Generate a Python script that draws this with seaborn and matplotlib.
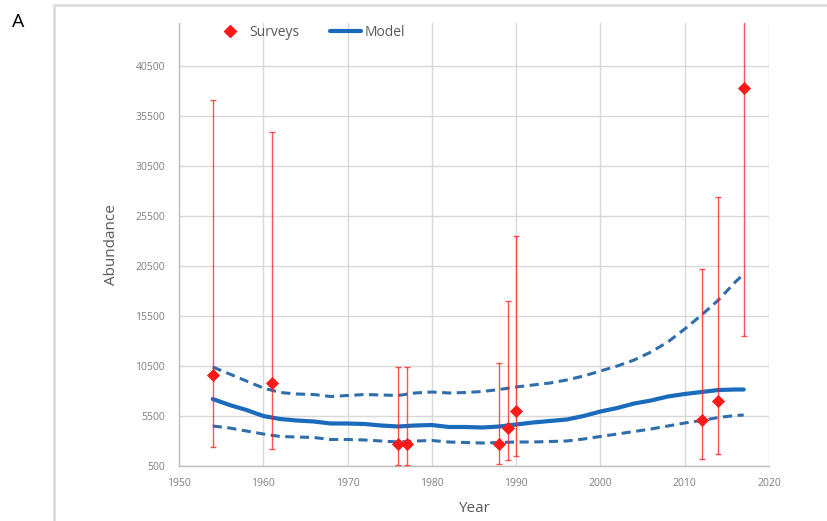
import matplotlib
matplotlib.use("Agg")
import matplotlib.pyplot as plt
import seaborn as sns
import pandas as pd
import numpy as np
from matplotlib.patches import Rectangle
from matplotlib.lines import Line2D

# ---- data ----
survey_years = [1954, 1961, 1976, 1977, 1988, 1989, 1990, 2012, 2014, 2017]
survey_values = [9600, 8800, 2700, 2700, 2750, 4350, 6000, 5150, 7000, 38300]
survey_lower = [2400, 2200, 600, 600, 700, 1100, 1500, 1250, 1750, 13500]
survey_upper = [37100, 33900, 10400, 10400, 10800, 17000, 23500, 20200, 27400, 47000]

model_years = [1954, 1956, 1958, 1960, 1962, 1964, 1966, 1968, 1970, 1972, 1974,
               1976, 1978, 1980, 1982, 1984, 1986, 1988, 1990, 1992, 1994, 1996,
               1998, 2000, 2002, 2004, 2006, 2008, 2010, 2012, 2014, 2016, 2017]
model_mid = [7200, 6600, 6100, 5500, 5200, 5050, 4950, 4750, 4750, 4700, 4550,
             4450, 4550, 4600, 4400, 4400, 4350, 4450, 4650, 4850, 5000, 5150,
             5500, 5950, 6300, 6750, 7050, 7450, 7700, 7900, 8100, 8150, 8150]
model_upper = [10400, 9700, 9000, 8300, 7850, 7700, 7650, 7450, 7550, 7650, 7600,
               7550, 7800, 7900, 7800, 7850, 7950, 8150, 8400, 8600, 8800, 9100,
               9500, 10000, 10500, 11100, 11900, 12900, 14200, 15600, 17100, 18900, 19700]
model_lower = [4500, 4300, 4000, 3700, 3450, 3400, 3350, 3150, 3150, 3100, 3000,
               2900, 3000, 3050, 2900, 2850, 2800, 2850, 2900, 2900, 2950, 3000,
               3200, 3450, 3700, 3950, 4200, 4500, 4800, 5050, 5350, 5550, 5600]

x_ticks = [1950, 1960, 1970, 1980, 1990, 2000, 2010, 2020]
y_ticks = [500, 5500, 10500, 15500, 20500, 25500, 30500, 35500, 40500]

# ---- style ----
sns.set_theme(style="white")
plt.rcParams['font.family'] = ['Open Sans', 'DejaVu Sans']

BLUE = "#1b6bbd"
DASH = "#2f6eab"
RED = "#ff1a1a"
GREY = "#595959"
TICKGREY = "#7f7f7f"

fig = plt.figure(figsize=(8.27, 5.21), dpi=100)
ax = fig.add_axes([179/827, 1-466/521, (769-179)/827, (466-23)/521])

# figure frame (top and left edges visible, extends beyond right/bottom)
fig.patches.append(Rectangle((54/827, -0.05), 1.0, 1-5/521+0.05,
                             transform=fig.transFigure, fill=False,
                             edgecolor="#d9d9d9", linewidth=1.8, zorder=0))
fig.text(12/827, 1-22/521, "A", fontsize=14, color="black", va="center", ha="left")

model_df = pd.DataFrame({"Year": model_years, "mid": model_mid,
                         "upper": model_upper, "lower": model_lower})
survey_df = pd.DataFrame({"Year": survey_years, "Abundance": survey_values})

sns.lineplot(data=model_df, x="Year", y="upper", ax=ax, color=DASH, lw=2.2,
             linestyle=(0, (3, 1.8)), zorder=3)
sns.lineplot(data=model_df, x="Year", y="lower", ax=ax, color=DASH, lw=2.2,
             linestyle=(0, (3, 1.8)), zorder=3)
sns.lineplot(data=model_df, x="Year", y="mid", ax=ax, color=BLUE, lw=3, zorder=4)

yerr = [np.array(survey_values) - np.array(survey_lower),
        np.array(survey_upper) - np.array(survey_values)]
ax.errorbar(survey_years, survey_values, yerr=yerr, fmt="none", ecolor=RED,
            elinewidth=1.0, capsize=2.5, capthick=1.0, alpha=0.75, zorder=5)
sns.scatterplot(data=survey_df, x="Year", y="Abundance", ax=ax, marker="D",
                color=RED, s=45, edgecolor=RED, linewidth=0, zorder=6)

ax.set_xlim(1950, 2020)
ax.set_ylim(500, 44800)
ax.set_xticks(x_ticks)
ax.set_yticks(y_ticks)
ax.set_xticklabels([str(t) for t in x_ticks], fontsize=7.5, color=TICKGREY)
ax.set_yticklabels([str(t) for t in y_ticks], fontsize=7.5, color=TICKGREY)
ax.tick_params(axis="x", length=0, pad=9)
ax.tick_params(axis="y", length=0, pad=10)
ax.grid(True, color="#d9d9d9", linewidth=1)
ax.set_axisbelow(True)
for side in ["top", "right"]:
    ax.spines[side].set_visible(False)
for side in ["left", "bottom"]:
    ax.spines[side].set_color("#bfbfbf")
    ax.spines[side].set_linewidth(1)

ax.set_xlabel("Year", fontsize=11, color=GREY, labelpad=8)
ax.set_ylabel("Abundance", fontsize=11, color=GREY, labelpad=12)

handles = [Line2D([], [], marker="D", color=RED, linestyle="none", markersize=6),
           Line2D([], [], color=BLUE, lw=3)]
fig.legend(handles, ["Surveys", "Model"], loc="center",
           bbox_to_anchor=(310/827, 1-32/521), ncol=2, frameon=False,
           fontsize=10, labelcolor=GREY, handlelength=2.2, columnspacing=2.2,
           handletextpad=0.3)

fig.savefig("out.png", dpi=100)
